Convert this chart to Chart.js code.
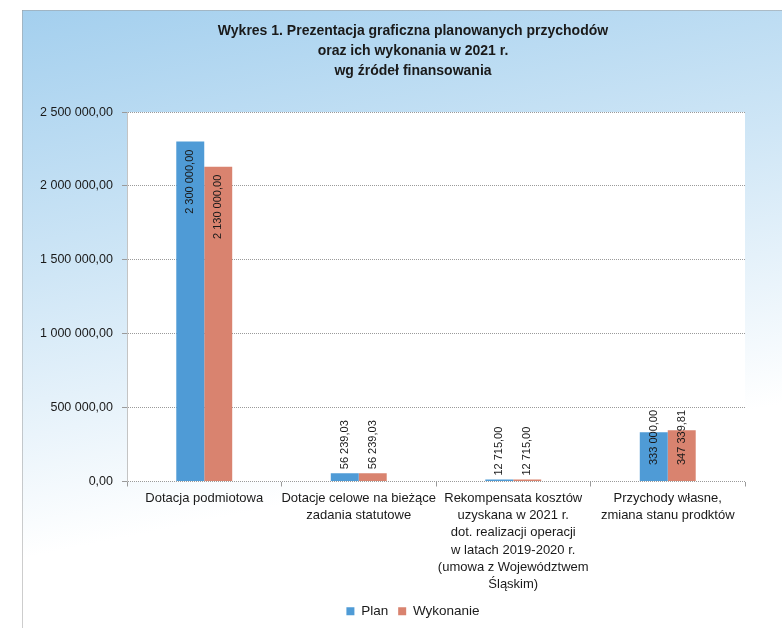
<!DOCTYPE html>
<html>
<head>
<meta charset="utf-8">
<script src="https://cdn.jsdelivr.net/npm/chart.js@4"></script>
<style>
  html, body { margin: 0; padding: 0; background: #fff; }
  #wrap { width: 782px; height: 628px; }
</style>
</head>
<body>
<div id="wrap"><canvas id="chart" width="782" height="628"></canvas></div>
<script>
// dane z wykresu
const categories = [
    ['Dotacja podmiotowa'],
    ['Dotacje celowe na bieżące', 'zadania statutowe'],
    ['Rekompensata kosztów', 'uzyskana w 2021 r.', 'dot. realizacji operacji', 'w latach 2019-2020 r.', '(umowa z Województwem', 'Śląskim)'],
    ['Przychody własne,', 'zmiana stanu prodktów']
];
const planValues = [2300000, 56239.03, 12715, 333000];
const wykonanieValues = [2130000, 56239.03, 12715, 347339.81];
const seriesNames = ['Plan', 'Wykonanie'];
const titleLines = ['Wykres 1. Prezentacja graficzna planowanych przychodów', 'oraz ich wykonania w 2021 r.', 'wg źródeł finansowania'];

const FONT = "'Liberation Sans', Arial, sans-serif";

// format 2 300 000,00
function formatPl(v) {
    const parts = Number(v).toFixed(2).split('.');
    const intPart = parts[0].replace(/\B(?=(\d{3})+(?!\d))/g, ' ');
    return intPart + ',' + parts[1];
}

// tło ramki i biały obszar wykresu
const backgroundPlugin = {
    id: 'background',
    afterLayout(chart) {
        // tytuł i legenda wyśrodkowane względem ramki, nie całego płótna
        chart.titleBlock.left += 22;
        chart.legend.left += 22;
    },
    beforeDraw(chart) {
        const ctx = chart.ctx;
        const {chartArea} = chart;
        ctx.save();
        ctx.fillStyle = '#ffffff';
        ctx.fillRect(0, 0, chart.width, chart.height);

        const grad = ctx.createLinearGradient(0, 10, 120, 600);
        grad.addColorStop(0, '#a3cfee');
        grad.addColorStop(0.45, '#cfe6f6');
        grad.addColorStop(0.9, '#ffffff');
        ctx.fillStyle = grad;
        ctx.fillRect(22, 10, chart.width - 22, chart.height - 10);

        ctx.strokeStyle = '#9a9a9a';
        ctx.lineWidth = 1;
        ctx.setLineDash([1, 1]);
        ctx.beginPath();
        ctx.moveTo(22.5, 10.5);
        ctx.lineTo(chart.width, 10.5);
        ctx.moveTo(22.5, 10.5);
        ctx.lineTo(22.5, chart.height);
        ctx.stroke();

        ctx.setLineDash([]);
        ctx.fillStyle = '#ffffff';
        ctx.fillRect(chartArea.left, chartArea.top, chartArea.right - chartArea.left, chartArea.bottom - chartArea.top);
        ctx.restore();
    }
};

// etykiety wartości pionowo
const valueLabelsPlugin = {
    id: 'valueLabels',
    afterDatasetsDraw(chart) {
        const ctx = chart.ctx;
        ctx.save();
        ctx.font = '11px ' + FONT;
        ctx.fillStyle = '#1a1a1a';
        ctx.textAlign = 'left';
        ctx.textBaseline = 'middle';
        chart.data.datasets.forEach((ds, i) => {
            const meta = chart.getDatasetMeta(i);
            meta.data.forEach((bar, j) => {
                const text = formatPl(ds.data[j]);
                const len = ctx.measureText(text).width;
                const endY = Math.max(bar.y - 4, Math.min(bar.y + 8 + len, bar.base - 16));
                ctx.save();
                ctx.translate(bar.x, endY);
                ctx.rotate(-Math.PI / 2);
                ctx.fillText(text, 0, 0);
                ctx.restore();
            });
        });
        ctx.restore();
    }
};

const ctx = document.getElementById('chart').getContext('2d');
new Chart(ctx, {
    type: 'bar',
    data: {
        labels: categories,
        datasets: [
            {
                label: seriesNames[0],
                data: planValues,
                backgroundColor: '#4f9bd6',
                categoryPercentage: 0.362,
                barPercentage: 1.0
            },
            {
                label: seriesNames[1],
                data: wykonanieValues,
                backgroundColor: '#d9836f',
                categoryPercentage: 0.362,
                barPercentage: 1.0
            }
        ]
    },
    options: {
        responsive: false,
        animation: false,
        layout: {
            padding: { left: 22, right: 0, top: 10, bottom: 0 }
        },
        scales: {
            x: {
                grid: {
                    drawOnChartArea: false,
                    drawTicks: true,
                    tickLength: 5,
                    color: '#9a9a9a'
                },
                border: { display: false },
                ticks: {
                    color: '#1a1a1a',
                    font: { family: FONT, size: 13, lineHeight: 1.33 },
                    padding: 3,
                    maxRotation: 0,
                    autoSkip: false
                },
                afterFit: s => { s.height = 113; }
            },
            y: {
                min: 0,
                max: 2500000,
                grid: {
                    color: '#9a9a9a',
                    tickLength: 5
                },
                border: { display: true, color: '#c4c4c4', dash: [1, 1] },
                ticks: {
                    stepSize: 500000,
                    color: '#1a1a1a',
                    font: { family: FONT, size: 12.5 },
                    padding: 9,
                    callback: v => formatPl(v)
                },
                afterFit: s => { s.width = 105; }
            },
            yR: {
                position: 'right',
                display: true,
                grid: { display: false },
                border: { display: false },
                ticks: { display: false },
                afterFit: s => { s.width = 37; }
            }
        },
        plugins: {
            title: {
                display: true,
                text: titleLines,
                color: '#1a1a1a',
                font: { family: FONT, size: 14, weight: 'bold', lineHeight: 1.43 },
                padding: { top: 11, bottom: 31 }
            },
            legend: {
                position: 'bottom',
                labels: {
                    color: '#1a1a1a',
                    font: { family: FONT, size: 13.5 },
                    boxWidth: 8,
                    boxHeight: 8,
                    padding: 10
                }
            },
            tooltip: { enabled: false }
        }
    },
    plugins: [backgroundPlugin, valueLabelsPlugin]
});
</script>
</body>
</html>
